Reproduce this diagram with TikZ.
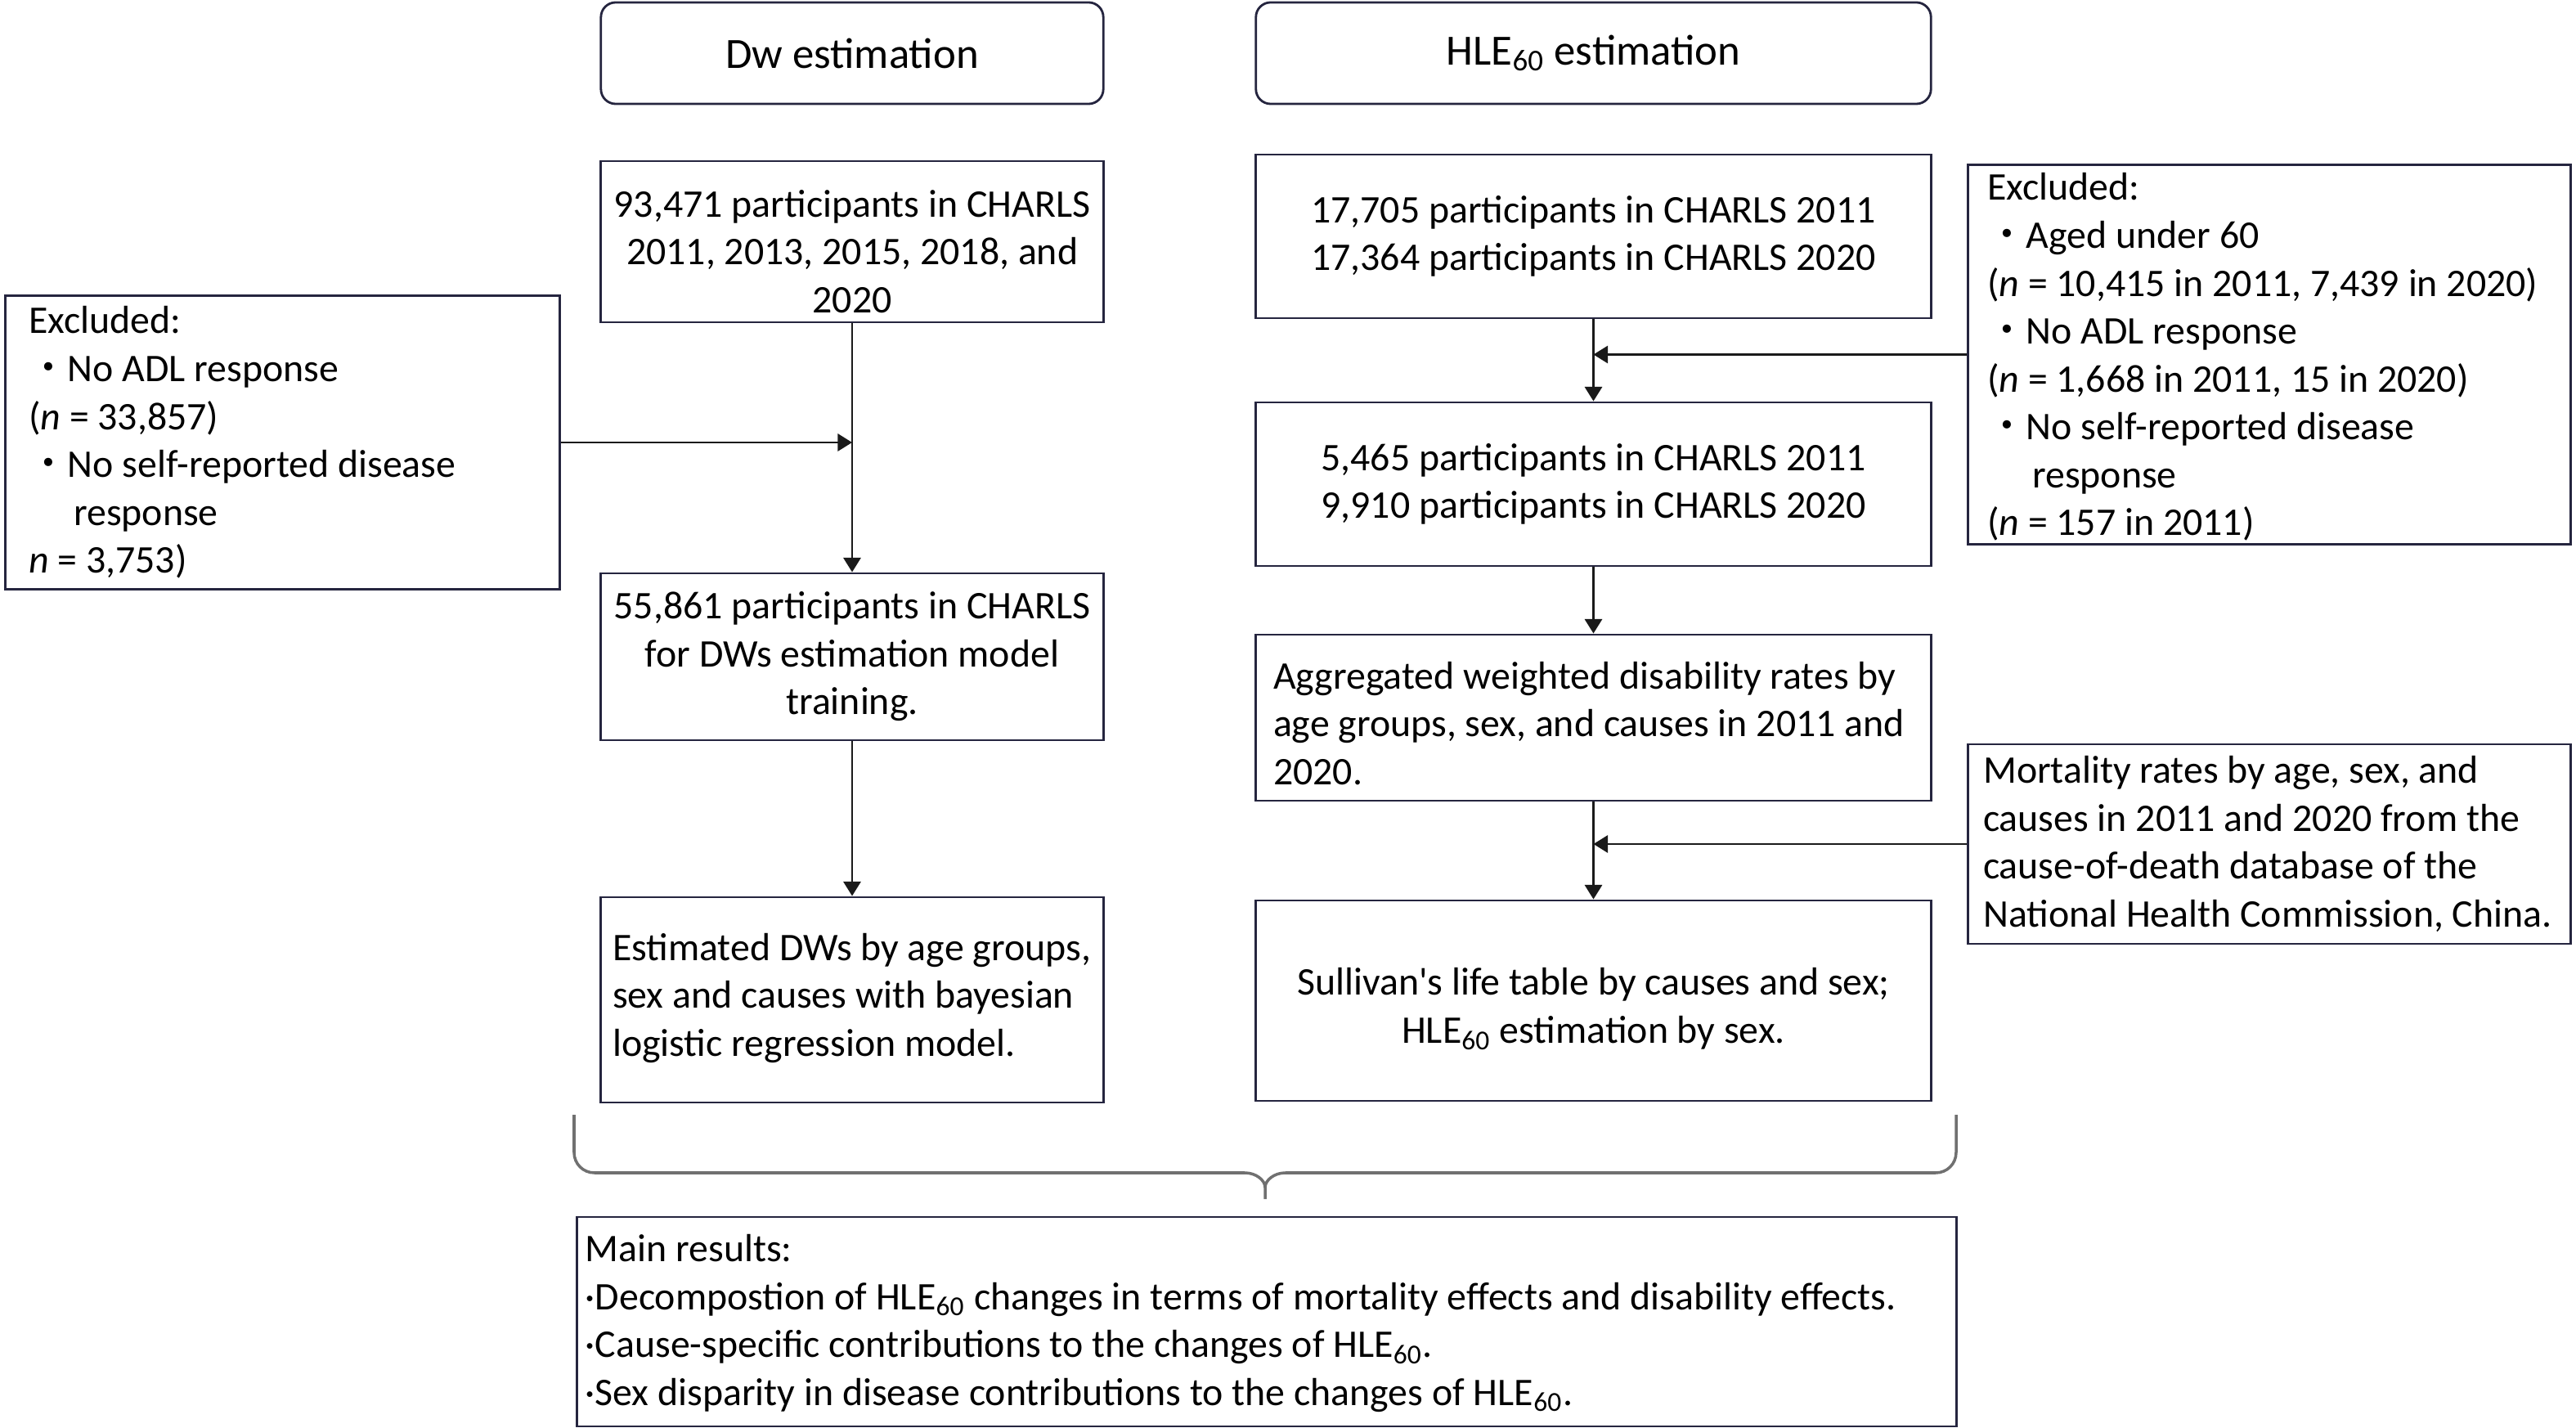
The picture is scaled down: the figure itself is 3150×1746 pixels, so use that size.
\documentclass[tikz,border=0pt]{standalone}
\usepackage{fontspec}
\setmainfont{Carlito}
\newfontfamily\cjkdot{Noto Sans CJK SC}
\usetikzlibrary{arrows.meta}
\definecolor{boxc}{HTML}{25253F}
\definecolor{linec}{HTML}{1A1A1A}
\definecolor{bracec}{HTML}{707070}
\newcommand{\HLEs}{HLE\textsubscript{60}}
\newcommand{\bul}{{\cjkdot ・}}
\begin{document}
\begin{tikzpicture}[x=0.01cm,y=-0.01cm,
  every node/.style={font=\fontsize{13.6pt}{16.64pt}\selectfont, text=black},
  titlebox/.style={draw=boxc, line width=0.8pt, rounded corners=0.18cm, inner sep=0pt, align=center,
    font=\fontsize{15pt}{18pt}\selectfont},
  cbox/.style={draw=boxc, line width=0.8pt, inner sep=0pt, align=center},
  ebox/.style={draw=boxc, line width=0.8pt, inner sep=0pt},
  ltext/.style={anchor=west, align=left, inner sep=0pt},
  ctext/.style={align=center, inner sep=0pt},
  arr/.style={draw=linec, line width=0.8pt, -{Triangle[length=5pt,width=6pt]}}]
\useasboundingbox (0,0) rectangle (3150,1746);

% titles
\node[titlebox, minimum width=6.14cm, minimum height=1.24cm] (T1) at (1042,65) {Dw estimation};
\node[titlebox, minimum width=8.25cm, minimum height=1.24cm] (T2) at (1948.5,65) {\HLEs{} estimation};

% left column
\node[ebox, minimum width=6.14cm, minimum height=1.97cm] (A1) at (1042,295.5) {};
\node[ctext] (A1t) at ([yshift=-0.12cm]A1.center)
  {93,471 participants in CHARLS\\2011, 2013, 2015, 2018, and\\2020};
\node[cbox, minimum width=6.14cm, minimum height=2.04cm] (A2) at (1042,803)
  {55,861 participants in CHARLS\\for DWs estimation model\\training.};
\node[ebox, minimum width=6.14cm, minimum height=2.51cm] (A3) at (1042,1222.5) {};
\node[ltext] (A3t) at ([xshift=0.15cm,yshift=0.02cm]A3.west)
  {Estimated DWs by age groups,\\sex and causes with bayesian\\logistic regression model.};

\node[ebox, minimum width=6.77cm, minimum height=3.58cm] (exl) at (345.5,541) {};
\node[ltext] (exlt) at ([xshift=0.29cm]exl.west)
  {Excluded:\\
   \bul No ADL response\\
   (\textit{n} = 33,857)\\
   \bul No self-reported disease\\
   \hspace*{1.15em}response\\
   \textit{n} = 3,753)};

% right column
\node[cbox, minimum width=8.25cm, minimum height=2.00cm] (B1) at (1948.5,289)
  {17,705 participants in CHARLS 2011\\17,364 participants in CHARLS 2020};
\node[cbox, minimum width=8.25cm, minimum height=2.00cm] (B2) at (1948.5,592)
  {5,465 participants in CHARLS 2011\\9,910 participants in CHARLS 2020};
\node[ebox, minimum width=8.25cm, minimum height=2.03cm] (B3) at (1948.5,877.5) {};
\node[ltext] (B3t) at ([xshift=0.22cm,yshift=-0.07cm]B3.west)
  {Aggregated weighted disability rates by\\age groups, sex, and causes in 2011 and\\2020.};
\node[ebox, minimum width=8.25cm, minimum height=2.45cm] (B4) at (1948.5,1223.5) {};
\node[ctext] (B4t) at ([yshift=-0.1cm]B4.center)
  {Sullivan\textquotesingle s life table by causes and sex;\\\HLEs{} estimation by sex.};

\node[ebox, minimum width=7.36cm, minimum height=4.63cm] (exr) at (2775,433.5) {};
\node[ltext] (exrt) at ([xshift=0.24cm,yshift=-0.03cm]exr.west)
  {Excluded:\\
   \bul Aged under 60\\
   (\textit{n} = 10,415 in 2011, 7,439 in 2020)\\
   \bul No ADL response\\
   (\textit{n} = 1,668 in 2011, 15 in 2020)\\
   \bul No self-reported disease\\
   \hspace*{1.15em}response\\
   (\textit{n} = 157 in 2011)};

\node[ebox, minimum width=7.36cm, minimum height=2.44cm] (mort) at (2775,1032) {};
\node[ltext] (mortt) at ([xshift=0.19cm]mort.west)
  {Mortality rates by age, sex, and\\causes in 2011 and 2020 from the\\cause-of-death database of the\\National Health Commission, China.};

% results
\node[ebox, minimum width=16.86cm, minimum height=2.56cm] (res) at (1549,1616) {};
\node[ltext] (rest) at ([xshift=0.11cm,yshift=-0.02cm]res.west)
  {Main results:\\
   ·Decompostion of \HLEs{} changes in terms of mortality effects and disability effects.\\
   ·Cause-specific contributions to the changes of \HLEs.\\
   ·Sex disparity in disease contributions to the changes of \HLEs.};

% connectors
\draw[arr] (A1.south) -- (A2.north);
\draw[arr] (exl.east) -- (exl.east -| A1.south);
\draw[arr] (A2.south) -- (A3.north);
\draw[arr] (B1.south) -- (B2.north);
\draw[arr] (exr.west) -- (exr.west -| B1.south);
\draw[arr] (B2.south) -- (B3.north);
\draw[arr] (B3.south) -- (B4.north);
\draw[arr] (mort.west) -- (mort.west -| B3.south);

% brace
\draw[bracec, line width=1pt]
  (702,1363) -- (702,1409) .. controls (702,1423) and (713,1434) .. (727,1434)
  -- (1522,1434) .. controls (1536,1434) and (1547,1443) .. (1547,1452) -- (1547,1466);
\draw[bracec, line width=1pt]
  (1547,1452) .. controls (1547,1443) and (1558,1434) .. (1572,1434)
  -- (2367,1434) .. controls (2381,1434) and (2392,1423) .. (2392,1409) -- (2392,1363);
\end{tikzpicture}
\end{document}
